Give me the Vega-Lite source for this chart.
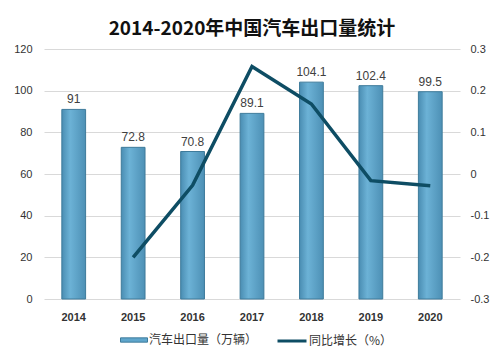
{
  "$schema": "https://vega.github.io/schema/vega-lite/v6.json",
  "autosize": "none",
  "width": 416,
  "height": 250,
  "padding": {"left": 44, "top": 49, "right": 42, "bottom": 64},
  "background": "white",
  "title": {
    "text": "2014-2020年中国汽车出口量统计",
    "font": "Noto Sans CJK SC",
    "fontSize": 19,
    "fontWeight": "bold",
    "color": "#111111",
    "anchor": "middle",
    "offset": 4
  },
  "config": {
    "view": {"stroke": null},
    "axis": {"grid": false, "domain": false, "ticks": false},
    "legend": {"padding": 0}
  },
  "data": {
    "values": [
      {"year": "2014", "exports": 91, "growth": null},
      {"year": "2015", "exports": 72.8, "growth": -0.2},
      {"year": "2016", "exports": 70.8, "growth": -0.027},
      {"year": "2017", "exports": 89.1, "growth": 0.258},
      {"year": "2018", "exports": 104.1, "growth": 0.168},
      {"year": "2019", "exports": 102.4, "growth": -0.016},
      {"year": "2020", "exports": 99.5, "growth": -0.028}
    ]
  },
  "encoding": {
    "x": {
      "field": "year",
      "type": "ordinal",
      "scale": {"paddingInner": 0.6, "paddingOuter": 0.3},
      "axis": {
        "title": null,
        "labelAngle": 0,
        "labelFont": "Liberation Sans",
        "labelFontSize": 11,
        "labelFontWeight": "bold",
        "labelColor": "#333333",
        "labelPadding": 12
      }
    }
  },
  "layer": [
    {
      "layer": [
        {
          "mark": {
            "type": "bar",
            "stroke": "#3e7b9b",
            "strokeWidth": 1,
            "color": {"gradient": "linear", "x1": 0, "y1": 0, "x2": 1, "y2": 0, "stops": [{"offset": 0, "color": "#4a8db2"}, {"offset": 0.35, "color": "#6cb2d6"}, {"offset": 1, "color": "#4d90b5"}]}
          },
          "encoding": {
            "y": {
              "field": "exports",
              "type": "quantitative",
              "scale": {"domain": [0, 120]},
              "axis": {
                "title": null,
                "values": [0, 20, 40, 60, 80, 100, 120],
                "grid": true,
                "gridColor": "#d9d9d9",
                "labelFont": "Liberation Sans",
                "labelFontSize": 11,
                "labelColor": "#333333",
                "labelPadding": 12
              }
            }
          }
        },
        {
          "mark": {"type": "bar", "opacity": 0},
          "encoding": {
            "y": {"datum": 0},
            "color": {
              "datum": "汽车出口量（万辆）",
              "scale": {"range": ["#5fa6cc"]},
              "legend": {
                "title": null,
                "orient": "none",
                "legendX": 76,
                "legendY": 277,
                "symbolType": "M-1,-0.16 L1,-0.16 L1,0.16 L-1,0.16 Z",
                "symbolSize": 729,
                "symbolOpacity": 1,
                "symbolStrokeColor": "#3e7b9b",
                "symbolStrokeWidth": 1,
                "labelFont": "Noto Sans CJK SC",
                "labelFontSize": 12,
                "labelColor": "#333333",
                "labelOffset": 1
              }
            }
          }
        },
        {
          "mark": {"type": "text", "dy": -10, "font": "Liberation Sans", "fontSize": 12, "color": "#404040"},
          "encoding": {
            "y": {"field": "exports", "type": "quantitative"},
            "text": {"field": "exports", "type": "quantitative"}
          }
        }
      ]
    },
    {
      "mark": {"type": "line", "strokeWidth": 3.5},
      "encoding": {
        "y": {
          "field": "growth",
          "type": "quantitative",
          "scale": {"domain": [-0.3, 0.3]},
          "axis": {
            "title": null,
            "orient": "right",
            "values": [-0.3, -0.2, -0.1, 0, 0.1, 0.2, 0.3],
            "labelExpr": "replace(format(datum.value, '~g'), '−', '-')",
            "labelFont": "Liberation Sans",
            "labelFontSize": 11,
            "labelColor": "#333333",
            "labelPadding": 10
          }
        },
        "stroke": {
          "datum": "同比增长（%）",
          "scale": {"range": ["#0e4d64"]},
          "legend": {
            "title": null,
            "orient": "none",
            "legendX": 232,
            "legendY": 276,
            "symbolType": "stroke",
            "symbolSize": 841,
            "symbolStrokeWidth": 3,
            "labelFont": "Noto Sans CJK SC",
            "labelFontSize": 12,
            "labelColor": "#333333",
            "labelOffset": 1
          }
        }
      }
    }
  ],
  "resolve": {"scale": {"y": "independent", "color": "independent"}}
}
